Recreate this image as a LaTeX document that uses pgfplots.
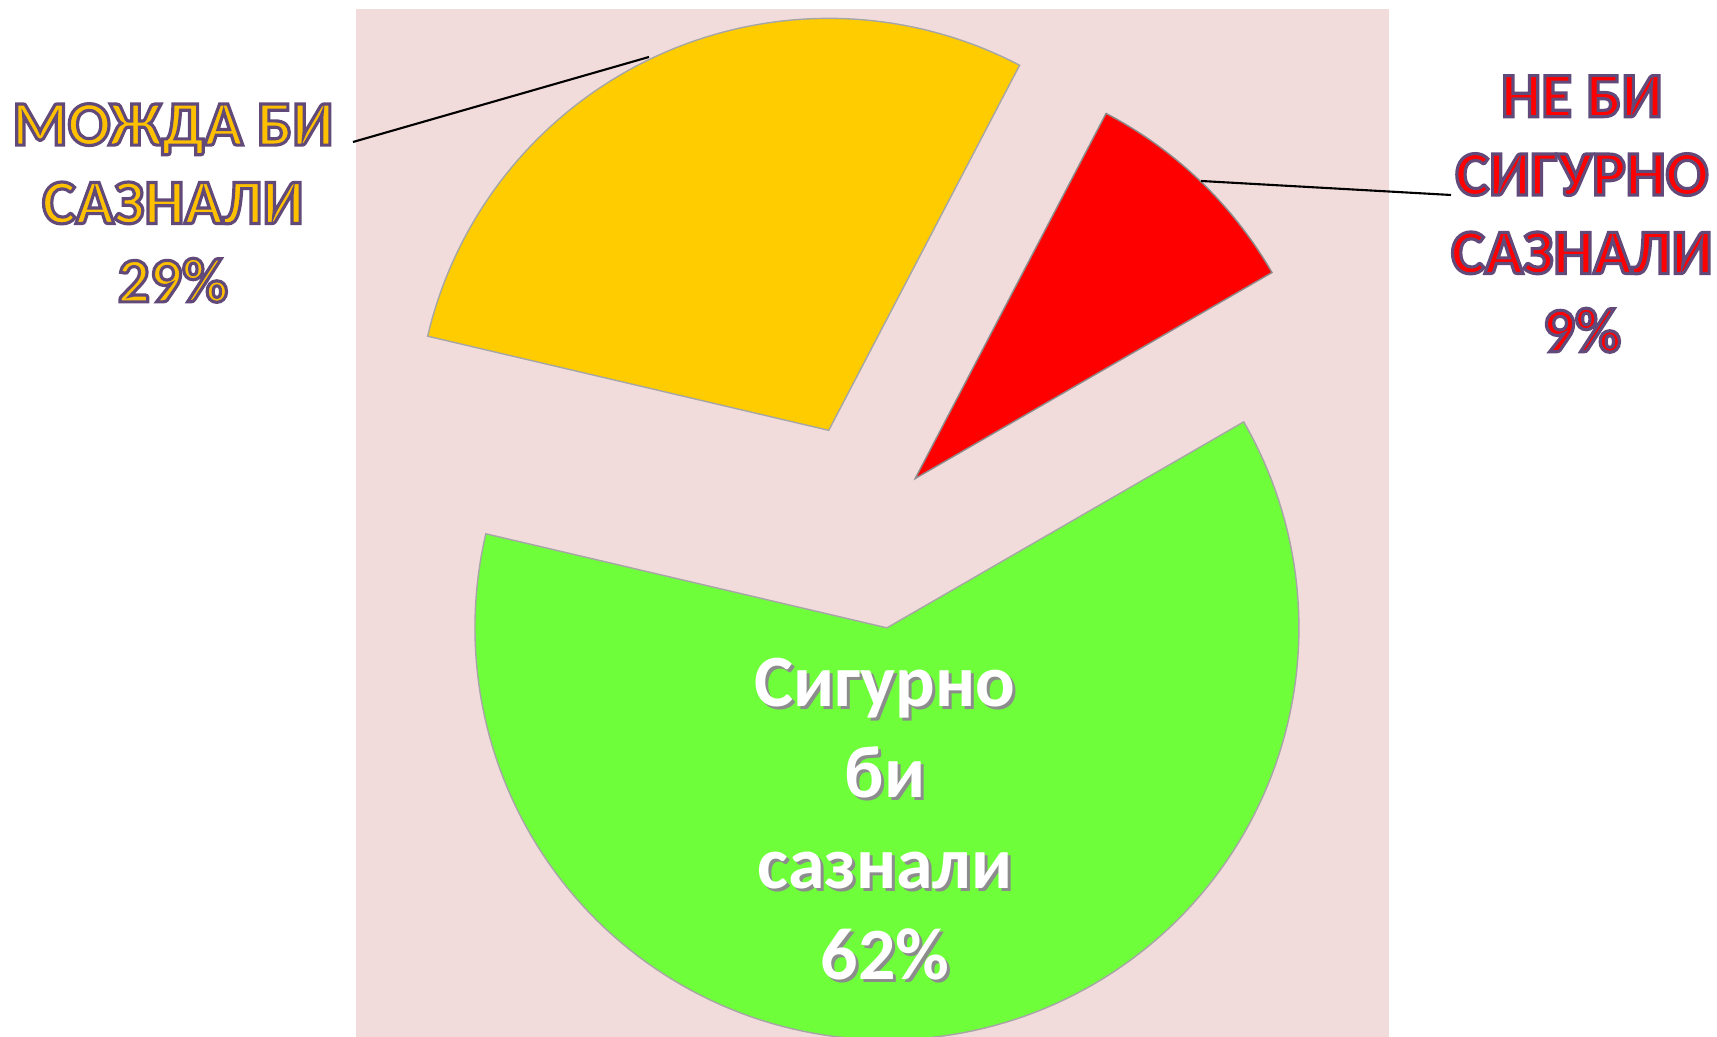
\documentclass[border=0pt]{standalone}
\usepackage{pgfplots}
\usepackage{pgfplotstable}
\pgfplotsset{compat=1.18}
\usepackage{fontspec}
\setmainfont{Carlito}

\definecolor{bgpink}{HTML}{F2DCDB}
\definecolor{pgreen}{HTML}{6FFF3A}
\definecolor{pyellow}{HTML}{FFCC00}
\definecolor{pred}{HTML}{FF0000}
\definecolor{lblorange}{HTML}{FFC000}

% purple outline around label text
\newcommand\outl[1]{\special{pdf:literal direct 2 Tr 0.9 w 0.38 0.29 0.48 RG}#1\special{pdf:literal direct 0 Tr}}

% share in percent, explode distance (px)
\pgfplotstableread{
name pct explode
red 9 63
yellow 29 103
green 62 105
}\slices

\begin{document}
\begin{tikzpicture}
\pgfmathsetmacro{\ox}{871.6}\pgfmathsetmacro{\oy}{513}
\def\R{412}\def\startang{30}
\pgfplotstablegetelem{0}{pct}\of\slices\pgfmathsetmacro{\pA}{\pgfplotsretval}
\pgfplotstablegetelem{1}{pct}\of\slices\pgfmathsetmacro{\pB}{\pgfplotsretval}
\pgfplotstablegetelem{2}{pct}\of\slices\pgfmathsetmacro{\pC}{\pgfplotsretval}
\pgfplotstablegetelem{0}{explode}\of\slices\pgfmathsetmacro{\dA}{\pgfplotsretval}
\pgfplotstablegetelem{1}{explode}\of\slices\pgfmathsetmacro{\dB}{\pgfplotsretval}
\pgfplotstablegetelem{2}{explode}\of\slices\pgfmathsetmacro{\dC}{\pgfplotsretval}
\pgfmathsetmacro{\aA}{\startang}\pgfmathsetmacro{\bA}{\aA+3.6*\pA}
\pgfmathsetmacro{\aB}{\bA}\pgfmathsetmacro{\bB}{\aB+3.6*\pB}
\pgfmathsetmacro{\aC}{\bB}\pgfmathsetmacro{\bC}{\aC+3.6*\pC}
\pgfmathsetmacro{\xA}{\ox+\dA*cos((\aA+\bA)/2)}\pgfmathsetmacro{\yA}{\oy+\dA*sin((\aA+\bA)/2)}
\pgfmathsetmacro{\xB}{\ox+\dB*cos((\aB+\bB)/2)}\pgfmathsetmacro{\yB}{\oy+\dB*sin((\aB+\bB)/2)}
\pgfmathsetmacro{\xC}{\ox+\dC*cos((\aC+\bC)/2)}\pgfmathsetmacro{\yC}{\oy+\dC*sin((\aC+\bC)/2)}
\begin{axis}[
    width=17.17cm, height=10.37cm,
    scale only axis,
    xmin=0, xmax=1717, ymin=0, ymax=1037,
    hide axis,
    clip=false,
]
\fill[bgpink] (axis cs:356,0) rectangle (axis cs:1389,1028);

\addplot[fill=pred, draw=black!45, line width=0.4pt, domain=\aA:\bA, samples=40]
    ({\xA+\R*cos(x)}, {\yA+\R*sin(x)}) -- (axis cs:\xA,\yA) -- cycle;
\addplot[fill=pyellow, draw=black!35, line width=0.4pt, domain=\aB:\bB, samples=80]
    ({\xB+\R*cos(x)}, {\yB+\R*sin(x)}) -- (axis cs:\xB,\yB) -- cycle;
\addplot[fill=pgreen, draw=black!35, line width=0.4pt, domain=\aC:\bC, samples=150]
    ({\xC+\R*cos(x)}, {\yC+\R*sin(x)}) -- (axis cs:\xC,\yC) -- cycle;

% leader lines
\draw[black, line width=0.6pt] (axis cs:353,895) -- (axis cs:649,980);
\draw[black, line width=0.6pt] (axis cs:1201,856) -- (axis cs:1451,842);

\node[align=center, text=lblorange, font=\bfseries\fontsize{18}{22.3}\selectfont]
    at (axis cs:173,834) {\outl{МОЖДА БИ}\\\outl{САЗНАЛИ}\\\outl{29\%}};
\node[align=center, text=pred, font=\bfseries\fontsize{18}{22.3}\selectfont]
    at (axis cs:1582,823) {\outl{НЕ БИ}\\\outl{СИГУРНО}\\\outl{САЗНАЛИ}\\\outl{9\%}};
\node[align=center, text=black!45, font=\bfseries\fontsize{21}{25.9}\selectfont]
    at (axis cs:888,215) {Сигурно\\би\\сазнали\\62\%};
\node[align=center, text=white, font=\bfseries\fontsize{21}{25.9}\selectfont]
    at (axis cs:885,218) {Сигурно\\би\\сазнали\\62\%};
\end{axis}
\pgfresetboundingbox
\path[use as bounding box] (current axis.south west) rectangle (current axis.north east);
\end{tikzpicture}
\end{document}
